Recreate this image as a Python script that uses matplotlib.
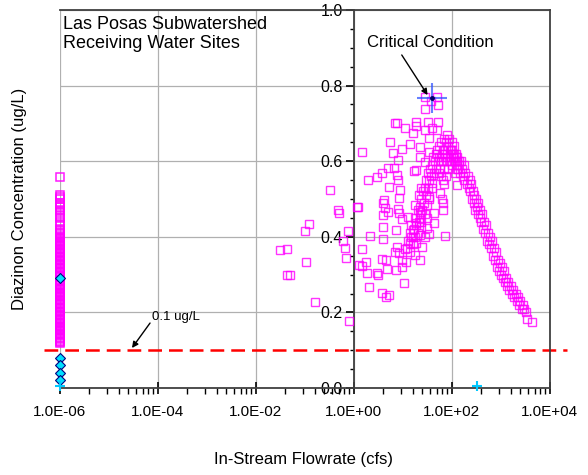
import matplotlib
matplotlib.use('Agg')
from matplotlib import pyplot as plt
from matplotlib import rc
from matplotlib.ticker import FixedLocator, FuncFormatter, MultipleLocator
import numpy as np

rc('font', family=['Liberation Sans', 'DejaVu Sans'])

flow_cfs = [
    0.031, 0.043, 0.043, 0.05, 0.10, 0.12, 0.105, 0.16, 0.32, 0.47, 0.5, 0.65, 0.6, 0.7, 0.75, 0.79,
    1.15, 1.2, 1.3, 1.45, 1.5, 1.5, 1.8, 1.85, 1.9, 2.0, 2.1, 2.95, 2.95, 3.1, 3.7, 3.7, 3.7,
    3.9, 3.9, 3.9, 3.9, 4.1, 4.3, 4.5, 4.5, 4.7, 4.9, 4.9, 5.2, 5.2, 5.4, 6.3, 6.6, 6.9, 6.9,
    7.2, 7.2, 7.5, 7.5, 7.5, 7.9, 7.9, 7.9, 8.3, 8.3, 8.3, 8.7, 9.6, 9.6, 9.6, 9.6, 10.5, 11, 11,
    11.5, 12.6, 14, 14, 15, 16, 16, 17, 17.5, 17.5, 18.5, 18.5, 19, 19, 19, 21, 22, 22, 22, 22,
    22, 22, 24, 24, 25, 28, 28, 29, 29, 29, 31, 31, 31, 32, 34, 35, 35, 35, 37, 39, 39, 43, 43,
    49, 49, 52, 52, 57, 65, 65, 72, 125,
    # rising arc
    12, 13, 14, 14, 15, 16, 16, 17, 18, 18, 19, 20, 20, 21, 22, 23, 24, 24, 25, 26, 27, 28, 28,
    30, 30, 32, 33, 34, 35, 36, 38, 40, 40, 42, 44, 45, 47, 48, 50, 52, 55, 56, 58, 60, 62, 65,
    68, 70, 72, 75, 78, 80, 85, 88, 90, 95, 60, 62, 66, 70,
    # peak cluster
    55, 60, 65, 70, 75, 80, 85, 90, 95, 100, 100, 105, 110, 110, 115, 120, 125, 130, 135, 140,
    # falling limb
    100, 105, 110, 115, 120, 125, 130, 140, 150, 155, 160, 170, 175, 180, 190, 200, 210, 220,
    230, 240, 250, 260, 270, 280, 290, 300, 310, 320, 340, 350, 370, 380, 400, 420, 440, 460,
    480, 500, 520, 550, 580, 600, 630, 660, 700, 720, 760, 800, 850, 880, 920, 960, 1000, 1050,
    1100, 1150, 1200, 1300, 1350, 1400, 1500, 1600, 1700, 1800, 1900, 2000, 2100, 2200, 2400,
    2500, 2700, 2800, 3000, 3200, 3400, 4300,
]
diazinon = [
    0.365, 0.368, 0.30, 0.30, 0.415, 0.434, 0.333, 0.228, 0.524, 0.47, 0.463, 0.37, 0.39, 0.344, 0.415, 0.177,
    0.48, 0.479, 0.325, 0.323, 0.624, 0.368, 0.333, 0.304, 0.55, 0.267, 0.402, 0.558, 0.304, 0.299, 0.569, 0.341, 0.251,
    0.49, 0.458, 0.426, 0.394, 0.497, 0.476, 0.339, 0.241, 0.315, 0.582, 0.466, 0.532, 0.246, 0.651, 0.622, 0.582, 0.701, 0.36,
    0.418, 0.312, 0.70, 0.563, 0.373, 0.603, 0.55, 0.473, 0.503, 0.463, 0.357, 0.524, 0.632, 0.447, 0.339, 0.32, 0.278, 0.688, 0.368,
    0.333, 0.452, 0.646, 0.384, 0.399, 0.675, 0.418, 0.574, 0.484, 0.352, 0.693, 0.384, 0.704, 0.577, 0.437, 0.511, 0.638, 0.611, 0.466, 0.45,
    0.405, 0.339, 0.529, 0.426, 0.373, 0.738, 0.399, 0.77, 0.683, 0.598, 0.484, 0.45, 0.423, 0.704, 0.407, 0.661, 0.624, 0.505, 0.759, 0.688, 0.542, 0.463, 0.437,
    0.77, 0.683, 0.749, 0.704, 0.516, 0.55, 0.489, 0.402, 0.537,
    0.37, 0.39, 0.36, 0.41, 0.43, 0.38, 0.40, 0.42, 0.45, 0.40, 0.43, 0.47, 0.41, 0.44, 0.48, 0.46, 0.50, 0.44, 0.47, 0.52, 0.49, 0.53, 0.46,
    0.51, 0.55, 0.53, 0.57, 0.50, 0.55, 0.58, 0.56, 0.59, 0.53, 0.61, 0.57, 0.60, 0.62, 0.58, 0.63, 0.60, 0.64, 0.61, 0.58, 0.65, 0.62, 0.60,
    0.66, 0.63, 0.61, 0.65, 0.67, 0.62, 0.64, 0.66, 0.60, 0.63, 0.56, 0.50, 0.47, 0.54,
    0.57, 0.60, 0.63, 0.58, 0.56, 0.60, 0.58, 0.63, 0.61, 0.65, 0.59, 0.62, 0.60, 0.64, 0.57, 0.62, 0.59, 0.61, 0.58, 0.60,
    0.63, 0.61, 0.62, 0.60, 0.61, 0.60, 0.58, 0.59, 0.57, 0.60, 0.58, 0.56, 0.59, 0.55, 0.57, 0.54, 0.56, 0.53,
    0.55, 0.52, 0.54, 0.50, 0.52, 0.49, 0.51, 0.47, 0.50, 0.48, 0.46, 0.49, 0.45, 0.47, 0.44, 0.46, 0.42, 0.44,
    0.41, 0.43, 0.39, 0.41, 0.38, 0.40, 0.37, 0.39, 0.35, 0.37, 0.34, 0.36, 0.32, 0.34, 0.31, 0.33, 0.30, 0.32,
    0.29, 0.31, 0.28, 0.29, 0.27, 0.28, 0.26, 0.27, 0.25, 0.26, 0.24, 0.25, 0.23, 0.24, 0.22,
    0.23, 0.21, 0.22, 0.21, 0.20, 0.183, 0.175,
]

# samples with no measurable flow (plotted at 1E-06 cfs)
zero_flow = 1e-6
zero_flow_conc = [0.558, 0.51, 0.505, 0.50, 0.49, 0.485, 0.48, 0.47, 0.465, 0.455, 0.45, 0.44, 0.43,
                  0.42, 0.415, 0.41, 0.405, 0.40, 0.395, 0.39, 0.385, 0.38, 0.375, 0.37, 0.365,
                  0.36, 0.355, 0.35, 0.345, 0.34, 0.335, 0.33, 0.325, 0.32, 0.315, 0.31, 0.305,
                  0.30, 0.295, 0.285, 0.28, 0.275, 0.27, 0.265, 0.26, 0.255, 0.25, 0.245, 0.24,
                  0.235, 0.23, 0.225, 0.22, 0.215, 0.21, 0.205, 0.20, 0.195, 0.19, 0.185, 0.18,
                  0.175, 0.17, 0.165, 0.16, 0.155, 0.15, 0.145, 0.14, 0.135, 0.13, 0.125, 0.12,
                  0.3975, 0.3875, 0.3775, 0.3675, 0.3575, 0.3475, 0.3375, 0.3275, 0.3175, 0.3075,
                  0.2975, 0.2825, 0.2725, 0.2625, 0.2525, 0.2425, 0.2325, 0.2225, 0.2125, 0.2025,
                  0.1925, 0.1825, 0.1725, 0.1625, 0.1525, 0.1425, 0.1325, 0.1225]
other_conc = [0.29, 0.079, 0.061, 0.040, 0.021]
plus_flow = [1e-6, 320]
plus_conc = [0.005, 0.005]

critical_flow = 39
critical_conc = 0.767
target = 0.1

fig = plt.figure(figsize=(5.88, 4.75), dpi=100)
ax = fig.add_axes([0.102, 0.183, 0.833, 0.796])

ax.set_xscale('log')
ax.set_xlim(1e-6, 1e4)
ax.set_ylim(0, 1.0)

ax.grid(which='major', color='#b0b0b0', lw=0.9)
ax.axvline(1e-6, color='#404040', lw=1.3, zorder=1.5)

ax.plot(flow_cfs, diazinon, ls='none', marker='s', ms=6, mfc='none', mec='#ff00ff', mew=1.0, alpha=0.8, zorder=3)
ax.plot([zero_flow] * len(zero_flow_conc), zero_flow_conc, ls='none', marker='s', ms=6,
        mfc='none', mec='#ff00ff', mew=1.1, alpha=0.9, zorder=3, clip_on=False)
ax.plot([zero_flow] * len(other_conc), other_conc, ls='none', marker='D', ms=5,
        mfc='#00e0ff', mec='#000080', mew=0.8, zorder=4, clip_on=False)
ax.plot(plus_flow, plus_conc, ls='none', marker='+', ms=7, mew=1.5, color='#00c8ff', zorder=4, clip_on=False)

ax.plot([critical_flow], [critical_conc], marker='+', ms=22, mew=1.5, color='#3355ff', alpha=0.75, zorder=5)
ax.plot([critical_flow], [critical_conc], marker='o', ms=2.5, color='#000066', zorder=6)

ax.plot([10**-6.33, 10**4.35], [target, target], color='red', lw=1.8, dashes=(5.5, 2.8), clip_on=False, zorder=2)

ax.text(37, 0.913, 'Critical Condition', fontsize=12, ha='center', va='center')
ax.annotate('', xy=(32, 0.775), xytext=(9.5, 0.881),
            arrowprops=dict(arrowstyle='-|>', color='black', lw=1, mutation_scale=9, shrinkA=0, shrinkB=0))
ax.text(2.3e-4, 0.188, '0.1 ug/L', fontsize=9.5, ha='center', va='center')
ax.annotate('', xy=(2.95e-5, 0.106), xytext=(6.9e-5, 0.172),
            arrowprops=dict(arrowstyle='-|>', color='black', lw=1, mutation_scale=9, shrinkA=0, shrinkB=0))

ax.text(0.006, 0.985, 'Las Posas Subwatershed\nReceiving Water Sites', transform=ax.transAxes,
        ha='left', va='top', fontsize=13, linespacing=1.15)

# spines: y axis drawn at 1 cfs
ax.spines['left'].set_position(('data', 1.0))
for s in ax.spines.values():
    s.set_color('#404040')
    s.set_linewidth(1.3)

major_x = [1e-6, 1e-4, 1e-2, 1e0, 1e2, 1e4]
minor_x = []
for d in [-6, -4, -2, 0, 2]:
    for k in range(2, 10):
        minor_x.append(10 ** (d + 2 * np.log10(k)))
ax.xaxis.set_major_locator(FixedLocator(major_x))
ax.xaxis.set_minor_locator(FixedLocator(minor_x))
ax.xaxis.set_major_formatter(FuncFormatter(lambda v, p: f'{v:.1E}'))
ax.xaxis.set_minor_formatter(FuncFormatter(lambda v, p: ''))
ax.tick_params(axis='x', which='major', direction='inout', length=9, width=1.2, labelsize=11, pad=8)
ax.tick_params(axis='x', which='minor', direction='out', length=4, width=1)

ax.yaxis.set_major_locator(MultipleLocator(0.2))
ax.yaxis.set_minor_locator(MultipleLocator(0.05))
ax.yaxis.set_major_formatter(FuncFormatter(lambda v, p: f'{v:.1f}'))
ax.tick_params(axis='y', which='major', direction='out', length=6, width=1.2, labelsize=11.5, pad=2)
ax.tick_params(axis='y', which='minor', direction='out', length=3, width=1)

fig.text(0.517, 0.032, 'In-Stream Flowrate (cfs)', fontsize=12, ha='center', va='center')
fig.text(0.034, 0.581, 'Diazinon Concentration (ug/L)', fontsize=12, ha='center', va='center', rotation=90)

plt.savefig('out.png', dpi=100)
